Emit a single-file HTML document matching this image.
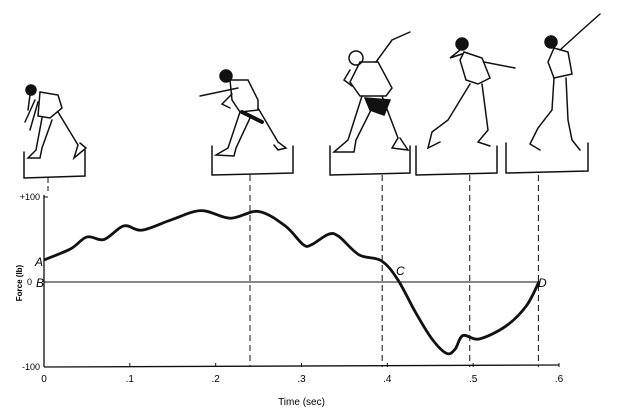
<!DOCTYPE html>
<html><head><meta charset="utf-8"><style>
body{margin:0;background:#fff}
svg{display:block;font-family:"Liberation Sans",sans-serif}
</style></head><body>
<svg width="635" height="420" viewBox="0 0 635 420">
<g id="figs" fill="none" stroke="#111" stroke-width="1.5" stroke-linecap="round">
 <g>
  <path d="M24 178 L24 152 M24 178 L85 176 L85 150"/>
  <circle cx="31" cy="90" r="5" fill="#111"/>
  <path d="M30 95 L28 110 M40 92 L58 95 L62 108 L50 118 L38 116 Z"/>
  <path d="M42 118 L36 150 L28 158 L40 158 L42 148 L52 120 M58 112 L78 145 L74 158 L86 148 L80 143"/>
  <path d="M35 100 L25 122 M38 102 L30 130"/>
 </g>
 <g>
  <path d="M212 175 L212 146 M212 175 L293 173 L293 146"/>
  <circle cx="226" cy="76" r="6" fill="#111"/>
  <path d="M230 80 L248 80 L258 100 L258 110 L240 112 L232 100 Z"/>
  <path d="M240 112 L228 148 L216 155 L234 156 L236 148 L250 118 M258 108 L278 142 L286 148 L278 150 L274 145"/>
  <path d="M238 88 L200 96 M232 94 L222 104 L230 108"/>
  <path d="M242 112 L262 122" stroke-width="4"/>
 </g>
 <g>
  <path d="M330 175 L330 146 M330 175 L410 173 L410 146"/>
  <circle cx="356" cy="58" r="7"/>
  <path d="M360 62 L378 62 L392 88 L386 96 L360 96 L350 82 Z"/>
  <path d="M362 96 L348 140 L334 152 L354 152 L356 140 L372 108 M382 96 L398 138 L392 148 L408 150 L400 138"/>
  <path d="M376 62 L392 40 L410 32 M350 70 L344 80 L352 86"/>
  <path d="M365 98 L390 100 L384 115 L370 110 Z" fill="#111"/>
 </g>
 <g>
  <path d="M416 175 L416 146 M416 175 L497 173 L497 146"/>
  <circle cx="462" cy="44" r="6" fill="#111"/>
  <path d="M464 52 L482 58 L490 78 L478 84 L466 80 L460 60 Z"/>
  <path d="M470 84 L448 120 L432 132 L428 148 L440 142 M482 84 L488 130 L478 142 L490 146"/>
  <path d="M484 62 L515 68 M460 50 L450 58 L462 54"/>
 </g>
 <g>
  <path d="M506 173 L506 143 M506 173 L588 171 L588 143"/>
  <circle cx="551" cy="42" r="6" fill="#111"/>
  <path d="M554 48 L568 52 L572 74 L554 78 L548 62 Z"/>
  <path d="M554 78 L552 110 L538 128 L530 144 L540 150 M566 78 L568 120 L572 140 L580 150"/>
  <path d="M560 50 L582 30 L600 14"/>
 </g>
</g>
<g id="chart"></g>
</svg>
<script>
const times=[0,.031,.05,.07,.093,.114,.148,.183,.217,.25,.281,.302,.312,.331,.343,.367,.393,.412,.433,.452,.469,.479,.488,.507,.538,.562,.577];
const forces=[26,39,53,50,66,61,73,84,75,83,66,44,44,56,54,32,25,3,-36,-67,-84,-79,-63,-67,-52,-28,1];
const xTicks=[0,.1,.2,.3,.4,.5,.6];
const xTickLabels=["0",".1",".2",".3",".4",".5",".6"];
const yTicks=[100,0,-100];
const yTickLabels=["+100","0","-100"];
const phaseTimes=[.240,.394,.496,.576];
const NS="http://www.w3.org/2000/svg";
const X=t=>44+t/0.6*515;
const Y=f=>282-f*0.85;
const g=document.getElementById('chart');
function mk(tag,attrs,name,text){const e=document.createElementNS(NS,tag);for(const k in attrs)e.setAttribute(k,attrs[k]);


if(text!==undefined)e.textContent=text;g.appendChild(e);return e;}
mk('line',{x1:44,y1:Y(100)-2,x2:44,y2:Y(-100),stroke:'#111','stroke-width':1.3},'y-axis');
mk('line',{x1:44,y1:Y(-100),x2:X(0.6),y2:Y(-100)-2,stroke:'#111','stroke-width':1.3},'x-axis');
mk('line',{x1:44,y1:Y(0),x2:X(0.577),y2:Y(0),stroke:'#111','stroke-width':1},'zero-line');
xTicks.forEach((t,i)=>{mk('line',{x1:X(t),y1:Y(-100),x2:X(t),y2:Y(-100)-4,stroke:'#111'},'x-tick');
mk('text',{x:X(t),y:Y(-100)+15,'font-size':10,'text-anchor':'middle'},'x-tick-label',xTickLabels[i]);});
yTicks.forEach((v,i)=>{mk('line',{x1:44,y1:Y(v),x2:48,y2:Y(v),stroke:'#111'},'y-tick');
mk('text',{x:v===0?32:40,y:Y(v)+3,'font-size':9,'text-anchor':'end'},'y-tick-label',yTickLabels[i]);});
mk('line',{x1:48,y1:178,x2:48,y2:Y(100)-4,stroke:'#111','stroke-dasharray':'5,3'},'phase-line-start');
phaseTimes.forEach(t=>mk('line',{x1:X(t),y1:175,x2:X(t),y2:Y(-100),stroke:'#111','stroke-dasharray':'6,4'},'phase-line'));
const pts=times.map((t,i)=>[X(t),Y(forces[i])]);
let d='M'+pts[0][0]+' '+pts[0][1];
for(let i=0;i<pts.length-1;i++){const p0=pts[i-1]||pts[i],p1=pts[i],p2=pts[i+1],p3=pts[i+2]||p2;
d+=` C${p1[0]+(p2[0]-p0[0])/6} ${p1[1]+(p2[1]-p0[1])/6} ${p2[0]-(p3[0]-p1[0])/6} ${p2[1]-(p3[1]-p1[1])/6} ${p2[0]} ${p2[1]}`;}
mk('path',{d:d,fill:'none',stroke:'#111','stroke-width':2.8,'stroke-linejoin':'round'},'force-curve');
mk('text',{x:35,y:266,'font-size':12,'font-style':'italic'},'label-a','A');
mk('text',{x:36,y:287,'font-size':12,'font-style':'italic'},'label-b','B');
mk('text',{x:396,y:275,'font-size':12,'font-style':'italic'},'label-c','C');
mk('text',{x:538,y:287,'font-size':12,'font-style':'italic'},'label-d','D');
mk('text',{x:X(0.3),y:405,'font-size':10,'text-anchor':'middle'},'x-axis-title','Time (sec)');
mk('text',{x:0,y:0,'font-size':8,'font-weight':'bold','text-anchor':'middle',transform:'translate(22,283) rotate(-90)'},'y-axis-title','Force (lb)');
</script>
</body></html>
